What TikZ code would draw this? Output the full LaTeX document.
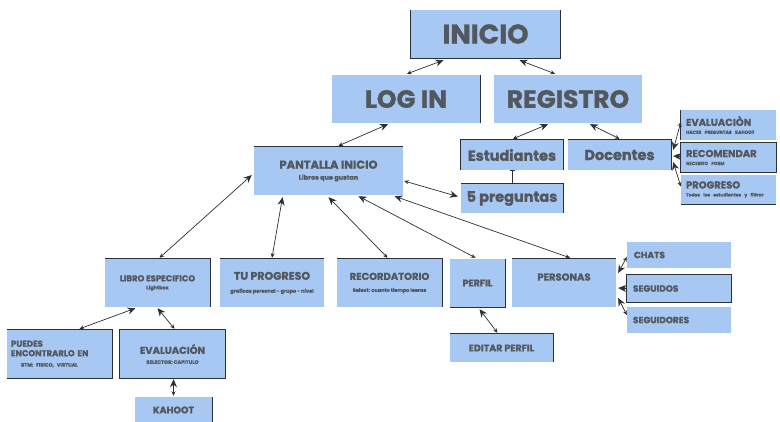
\documentclass[tikz,border=0pt]{standalone}
\usepackage{fontspec}
\setmainfont{Poppins}[BoldFeatures={FakeBold=1.2}]
\usetikzlibrary{arrows.meta,calc}
\definecolor{boxblue}{HTML}{A7C8F2}
\definecolor{txt}{HTML}{53575E}
\definecolor{edge}{HTML}{2B2F36}
\tikzset{
  box/.style={fill=boxblue, draw=none, text=txt, font=\bfseries, align=center, inner sep=2pt},
  lbox/.style={box, align=left},
  con/.style={draw=edge, line width=0.7pt, arrows={Stealth[length=8pt,width=7pt]-Stealth[length=4.5pt,width=4pt]}},
  tcon/.style={draw=edge, line width=0.7pt, arrows={Bar[width=5pt]-Bar[width=4pt]}},
  rim/.style={draw=edge, line width=0.7pt}
}
\begin{document}
\begin{tikzpicture}[x=1pt,y=-1pt]
\useasboundingbox (0,0) rectangle (780,421);
\fill[white] (0,0) rectangle (780,421);
% top level
\node[box, minimum width=149pt, minimum height=48pt, font=\fontsize{27}{30}\selectfont\bfseries] (inicio) at (485.5,34) {INICIO};
\node[box, minimum width=148pt, minimum height=48pt, font=\fontsize{25}{28}\selectfont\bfseries] (login) at (406,99) {LOG IN};
\node[box, minimum width=148pt, minimum height=48pt, font=\fontsize{25}{28}\selectfont\bfseries] (registro) at (568,99) {REGISTRO};
\node[box, minimum width=149pt, minimum height=48pt, font=\fontsize{11.5}{12}\selectfont\bfseries] (pantalla) at (328.5,171) {PANTALLA INICIO\\[-1pt]{\fontsize{6.5}{7}\selectfont Libros que gustan}};
\node[box, minimum width=102pt, minimum height=30pt, font=\fontsize{14.5}{16}\selectfont\bfseries] (estud) at (512,155) {Estudiantes};
\node[box, minimum width=103pt, minimum height=30pt, font=\fontsize{14.5}{16}\selectfont\bfseries] (docentes) at (619.5,155) {Docentes};
\node[box, minimum width=102pt, minimum height=29pt, font=\fontsize{14.5}{16}\selectfont\bfseries] (preg) at (512,198.5) {5 preguntas};
% docentes children
\node[lbox, minimum height=30pt, text width=85pt, inner xsep=5pt, font=\fontsize{10}{10}\selectfont\bfseries] (evaldoc) at (728.5,125) {EVALUACIÒN\\[-2pt]{\fontsize{4.5}{5}\selectfont HACER PREGUNTAS KAHOOT}};
\node[lbox, minimum height=29pt, text width=85pt, inner xsep=5pt, font=\fontsize{10}{10}\selectfont\bfseries] (recom) at (728.5,157.5) {RECOMENDAR\\[-2pt]{\fontsize{4.5}{5}\selectfont NECESITO FORM}};
\node[lbox, minimum height=29pt, text width=85pt, inner xsep=5pt, font=\fontsize{10}{10}\selectfont\bfseries] (progdoc) at (728.5,189.5) {PROGRESO\\[-2pt]{\fontsize{4.5}{5}\selectfont Todos los estudiantes y filtrar}};
% second row
\node[box, minimum width=105pt, minimum height=48pt, font=\fontsize{8.5}{9}\selectfont\bfseries] (libro) at (157.5,283) {LIBRO ESPECIFICO\\[-1pt]{\fontsize{5}{6}\selectfont Lightbox}};
\node[box, minimum width=104pt, minimum height=48pt, font=\fontsize{11}{12}\selectfont\bfseries] (tuprog) at (272,283) {TU PROGRESO\\[1pt]{\fontsize{5}{6}\selectfont graficas personal - grupo - nivel}};
\node[box, minimum width=105pt, minimum height=48pt, font=\fontsize{10}{11}\selectfont\bfseries] (record) at (389.5,283) {RECORDATORIO\\[1pt]{\fontsize{5}{6}\selectfont Select: cuanto tiempo leeras}};
\node[box, minimum width=55pt, minimum height=48pt, font=\fontsize{9.5}{10}\selectfont\bfseries] (perfil) at (477.5,283) {PERFIL};
\node[box, minimum width=104pt, minimum height=48pt, text depth=12pt, font=\fontsize{10}{10}\selectfont\bfseries] (personas) at (564,283) {PERSONAS};
\node[lbox, minimum height=26pt, text width=90pt, inner xsep=7pt, font=\fontsize{9}{10}\selectfont\bfseries] (chats) at (679,255) {CHATS};
\node[lbox, minimum height=27pt, text width=92pt, inner xsep=6pt, font=\fontsize{9}{10}\selectfont\bfseries] (seguidos) at (679,288.5) {SEGUIDOS};
\node[lbox, minimum height=26pt, text width=92pt, inner xsep=6pt, font=\fontsize{9}{10}\selectfont\bfseries] (seguidores) at (679,320) {SEGUIDORES};
\node[box, minimum width=103pt, minimum height=28pt, font=\fontsize{9.5}{10}\selectfont\bfseries] (editar) at (501.5,348) {EDITAR PERFIL};
% third row
\node[lbox, minimum height=48pt, text width=97pt, inner xsep=4pt, font=\fontsize{8.5}{9.5}\selectfont\bfseries] (puedes) at (59.5,354) {PUEDES\\ENCONTRARLO EN\\[1pt]\hspace*{10pt}{\fontsize{5}{6}\selectfont BTM: FISICO, VIRTUAL}};
\node[box, minimum width=105pt, minimum height=48pt, font=\fontsize{10}{11}\selectfont\bfseries] (evallib) at (172.5,354) {EVALUACIÓN\\[-1pt]{\fontsize{5}{6}\selectfont SELECTOR: CAPITULO}};
\node[box, minimum width=77pt, minimum height=26pt, font=\fontsize{9.5}{10}\selectfont\bfseries] (kahoot) at (173.5,410) {KAHOOT};
% partial dark rims
\draw[rim] (inicio.north west) -- (inicio.south west) -- (inicio.south east) -- (inicio.north east);
\draw[rim] (login.north east) -- (login.south east);
\draw[rim] (pantalla.north west) -- (pantalla.north east);
\draw[rim] (estud.south west) -- (estud.north west) -- (estud.north east) -- (estud.south east);
\draw[rim] (preg.north west) -- (preg.north east) -- (preg.south east);
\draw[rim] (docentes.north west) -- (docentes.north east) -- (docentes.south east);
\draw[rim] (recom.north west) rectangle (recom.south east);
\draw[rim] (evaldoc.north west) -- (evaldoc.south west);
\draw[rim] (progdoc.south west) -- (progdoc.south east);
\draw[rim] (libro.north west) -- (libro.north east) -- (libro.south east);
\draw[rim] (tuprog.north west) -- (tuprog.north east);
\draw[rim] (record.north west) -- (record.north east) -- (record.south east);
\draw[rim] (perfil.north east) -- (perfil.south east) -- (perfil.south west);
\draw[rim] (personas.north west) -- (personas.north east);
\draw[rim] (seguidos.north west) rectangle (seguidos.south east);
\draw[rim] (puedes.north west) -- (puedes.north east) -- (puedes.south east) -- (puedes.south west);
\draw[rim] (evallib.north west) rectangle (evallib.south east);
\draw[rim] (kahoot.north east) -- (kahoot.south east);
\draw[rim] (editar.north west) -- (editar.north east) -- (editar.south east);
% connectors
\draw[con] ($(inicio.south)+(-42,2)$) -- ($(login.north)+(1,-1)$);
\draw[con] ($(inicio.south)+(34,2)$) -- ($(registro.north)+(-13,-1)$);
\draw[con] ($(login.south)+(-18,1)$) -- ($(pantalla.north)+(10,-1)$);
\draw[con] ($(registro.south)+(-20,1)$) -- ($(estud.north)+(1,-1)$);
\draw[con] ($(registro.south)+(22,1)$) -- ($(docentes.north)+(0,-1)$);
\draw[tcon] (estud.south) -- (preg.north);
\draw[con] ($(preg.west)+(-3,-2)$) -- ($(pantalla.east)+(1,10)$);
\draw[con] ($(docentes.east)+(2,-5)$) -- ($(evaldoc.west)+(0,-3)$);
\draw[con] ($(docentes.east)+(2,1)$) -- ($(recom.west)+(0,-1)$);
\draw[con] ($(docentes.east)+(2,7)$) -- ($(progdoc.west)+(0,-3)$);
\draw[con] ($(pantalla.west)+(-2,4)$) -- ($(libro.north)+(2,-1)$);
\draw[con] ($(pantalla.south)+(-46,2)$) -- ($(tuprog.north)+(0,-1)$);
\draw[con] ($(pantalla.south)+(0,2)$) -- ($(record.north)+(-2,-1)$);
\draw[con] ($(pantalla.south)+(30,1)$) -- ($(perfil.north)+(-2,-1)$);
\draw[con] ($(pantalla.south)+(66,1)$) -- ($(personas.north)+(6,-1)$);
\draw[con] ($(libro.south)+(-22,1)$) -- ($(puedes.north)+(20,-1)$);
\draw[con] ($(libro.south)+(0,1)$) -- ($(evallib.north)+(2,-1)$);
\draw[con] ($(evallib.south)+(1,1)$) -- ($(kahoot.north)+(0,-1)$);
\draw[con] ($(perfil.south)+(2,2)$) -- ($(editar.north)+(-4,-1)$);
\draw[con] ($(personas.east)+(2,-10)$) -- ($(chats.west)+(0,2)$);
\draw[con] ($(personas.east)+(2,5)$) -- ($(seguidos.west)+(0,0)$);
\draw[con] ($(personas.east)+(2,15)$) -- ($(seguidores.west)+(0,-5)$);
\end{tikzpicture}
\end{document}
